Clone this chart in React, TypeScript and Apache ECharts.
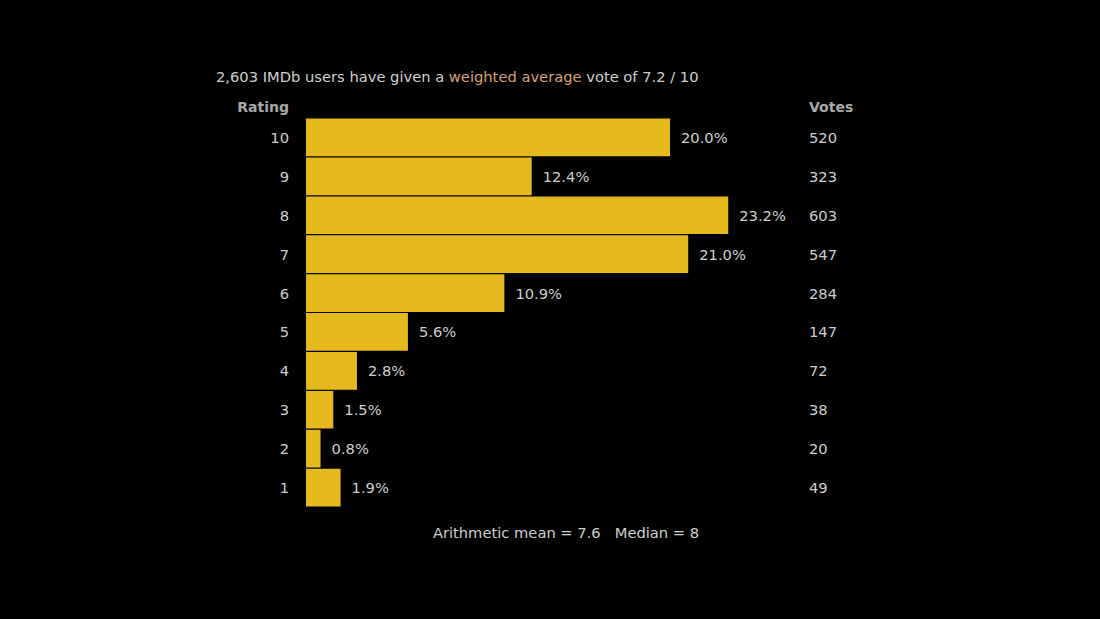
import React, { useEffect, useRef } from "react";
import * as echarts from "echarts";

const ratings = ["10", "9", "8", "7", "6", "5", "4", "3", "2", "1"];
const percents = [20.0, 12.4, 23.2, 21.0, 10.9, 5.6, 2.8, 1.5, 0.8, 1.9];
const votes = [520, 323, 603, 547, 284, 147, 72, 38, 20, 49];
const totalVotes = "2,603";
const weightedAvg = "7.2";
const meanText = "Arithmetic mean = 7.6   Median = 8";

const FONT = "DejaVu Sans";
const TXT = "#cfcfcf";
const FS = 14.7;

export default function App() {
  const ref = useRef<HTMLDivElement>(null);
  useEffect(() => {
    const chart = echarts.init(ref.current!, null, { renderer: "svg" });
    chart.setOption({
      animation: false,
      backgroundColor: "#000000",
      textStyle: { fontFamily: FONT },
      title: [
        {
          text: `${totalVotes} IMDb users have given a {w|weighted average} vote of ${weightedAvg} / 10`,
          left: 211,
          top: 64,
          textStyle: {
            color: TXT,
            fontSize: FS,
            fontWeight: "normal",
            fontFamily: FONT,
            rich: { w: { color: "#d9a073", fontSize: FS, fontFamily: FONT } },
          },
        },
        {
          text: meanText,
          left: 561,
          textAlign: "center",
          top: 520,
          textStyle: { color: TXT, fontSize: FS, fontWeight: "normal", fontFamily: FONT },
        },
      ],
      graphic: [
        {
          type: "text",
          right: 1100 - 289,
          top: 100,
          style: { text: "Rating", fill: "#a8a8a8", font: `bold 14px "${FONT}"` },
        },
        {
          type: "text",
          left: 809,
          top: 100,
          style: { text: "Votes", fill: "#a8a8a8", font: `bold 14px "${FONT}"` },
        },
      ],
      grid: { left: 306, top: 118, bottom: 112, width: 455 },
      xAxis: {
        type: "value",
        min: 0,
        max: 25,
        show: false,
      },
      yAxis: [
        {
          type: "category",
          data: ratings,
          inverse: true,
          axisLine: { show: false },
          axisTick: { show: false },
          axisLabel: { color: TXT, fontSize: FS, margin: 17, fontFamily: FONT },
        },
        {
          type: "category",
          data: votes.map(String),
          inverse: true,
          position: "right",
          axisLine: { show: false },
          axisTick: { show: false },
          axisLabel: { color: TXT, fontSize: FS, margin: 48, align: "left", fontFamily: FONT },
        },
      ],
      series: [
        {
          type: "bar",
          data: percents,
          barCategoryGap: "3%",
          itemStyle: { color: "#e6b91e" },
          label: {
            show: true,
            position: "right",
            distance: 11,
            color: TXT,
            fontSize: FS,
            fontFamily: FONT,
            formatter: (p: any) => `${p.value.toFixed(1)}%`,
          },
        },
      ],
    });
    return () => chart.dispose();
  }, []);
  return <div ref={ref} style={{ position: "absolute", left: 0, top: 0, width: 1100, height: 619 }} />;
}
